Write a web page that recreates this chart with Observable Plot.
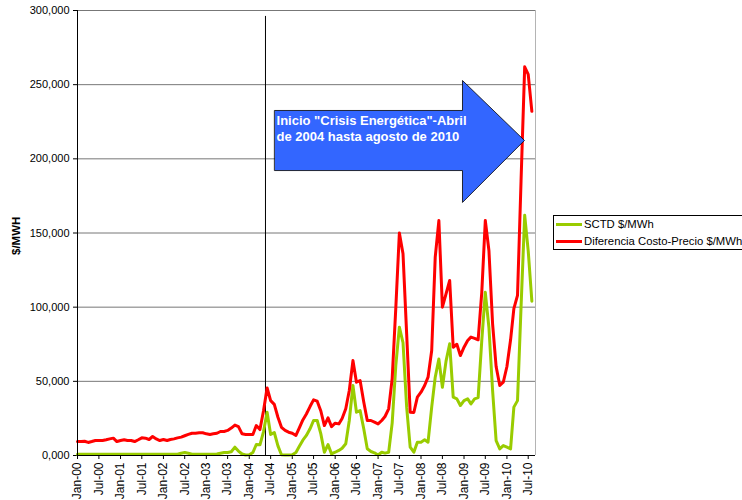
<!DOCTYPE html>
<html><head><meta charset="utf-8">
<script src="https://cdn.jsdelivr.net/npm/d3@7"></script>
<script src="https://cdn.jsdelivr.net/npm/@observablehq/plot@0.6"></script>
<style>
html,body{margin:0;padding:0;background:#fff;overflow:hidden;}
#wrap{position:relative;width:742px;height:500px;font-family:"Liberation Sans",Arial,sans-serif;}
#legend{position:absolute;left:553px;top:215px;width:210px;height:33px;border:1px solid #000;background:#fff;font-size:11.3px;color:#000;}
.item{position:absolute;left:2px;height:14px;display:flex;align-items:center;white-space:nowrap;}
.swatch{display:inline-block;width:26px;height:3px;margin-right:2px;}
</style></head>
<body><div id="wrap"><div id="legend"></div></div>
<script>
// ---- data (monthly, Jan-00 .. Aug-10) ----
const firstMonth = "2000-01-01";
const lastMonthExclusive = "2010-09-01";
const seriesNames = ["SCTD $/MWh", "Diferencia Costo-Precio $/MWh"];
const seriesColors = ["#99CC00", "#FF0000"];

const sctd = [
  800,800,800,800,800,800,800,800,800,800,800,800,
  800,800,800,800,800,800,800,800,800,800,800,800,
  800,800,800,800,800,1500,2000,1500,800,800,800,800,
  800,800,800,1000,1500,2000,2000,2500,5600,3000,1000,300,
  500,2000,7400,7200,16000,29200,14200,15500,6500,500,300,300,
  500,2000,6000,10300,13500,18000,23600,23600,14600,2200,7400,1100,
  2200,3400,4900,7900,23600,47200,29200,30300,18000,4500,2700,1800,
  300,2200,1600,2200,22000,61000,86500,76000,32600,5600,2200,9000,
  9000,10600,9000,32600,52800,65000,46000,63600,75300,39300,38200,33700,
  37000,38200,34800,38200,39000,77500,110000,86000,43800,10000,4500,6700,
  5600,4500,32600,37000,100000,162000,138000,104000
];
const diferencia = [
  9400,9400,9600,8800,9400,10100,10100,10100,10600,11200,11700,9400,
  10100,10600,10100,10100,9400,10600,11900,11700,10800,12800,11200,10100,
  10800,10100,10800,11200,11900,12400,13300,14200,15000,15000,15300,15300,
  14600,14200,14600,15000,16200,16200,16900,18500,20500,19500,14600,14200,
  14200,14200,20200,17500,30000,45500,37000,34500,25800,19000,16900,15700,
  15000,13500,18500,24000,28000,33000,37500,36600,30000,20200,25400,19500,
  21800,21300,25000,31500,43800,64000,49400,50500,36000,23600,23600,22500,
  21300,23600,26300,31500,52000,100000,150000,136000,82000,29200,29000,39300,
  42700,47200,52800,70800,133700,158400,100000,109000,118000,73000,75000,67400,
  73000,77500,79800,79000,78000,110000,158400,138000,88800,60000,47200,49400,
  60000,78000,99000,108000,185000,262000,257000,232000
];

const xTickLabels = ["Jan-00","Jul-00","Jan-01","Jul-01","Jan-02","Jul-02","Jan-03","Jul-03",
  "Jan-04","Jul-04","Jan-05","Jul-05","Jan-06","Jul-06","Jan-07","Jul-07","Jan-08","Jul-08",
  "Jan-09","Jul-09","Jan-10","Jul-10"];
const yTicks = [0,50000,100000,150000,200000,250000,300000];
const yTickLabels = ["0,000","50,000","100,000","150,000","200,000","250,000","300,000"];
const yAxisLabel = "$/MWH";

// annotation: crisis start line and arrow
const crisisDate = "2004-05-18";
const crisisTop = 296000;
const arrowText = "Inicio \"Crisis Energética\"-Abril\nde 2004 hasta agosto de 2010";
const arrowTextDate = "2004-08-20";
const arrowTextTop = 231000;
const arrowX = ["2004-08-05","2008-12-19","2008-12-19","2010-05-30","2008-12-19","2008-12-19","2004-08-05"];
const arrowY = [232600,232600,252800,212400,170600,192100,192100];

// ---- build ----
const parseISO = d3.utcParse("%Y-%m-%d");
const parseTick = d3.utcParse("%b-%y");
const x0 = parseISO(firstMonth), x1 = parseISO(lastMonthExclusive);
const months = d3.utcMonth.range(x0, x1);
const sctdRows = months.map((d, i) => ({date: d, value: sctd[i]}));
const difRows = months.map((d, i) => ({date: d, value: diferencia[i]}));
const tickDates = xTickLabels.map(parseTick);
const xLabelMap = new Map(tickDates.map((d, i) => [+d, xTickLabels[i]]));
const yLabelMap = new Map(yTicks.map((v, i) => [v, yTickLabels[i]]));
const arrowPts = arrowX.map((d, i) => ({x: parseISO(d), y: arrowY[i]}));

const chart = Plot.plot({
  width: 742, height: 500,
  marginLeft: 77, marginRight: 207, marginTop: 10, marginBottom: 45,
  style: {fontFamily: "'Liberation Sans', Arial, sans-serif", fontSize: "11px", color: "#000", background: "#fff", overflow: "visible"},
  x: {type: "utc", domain: [x0, x1]},
  y: {domain: [0, 300000]},
  marks: [
    Plot.ruleY(yTicks.slice(1), {stroke: "#777", strokeWidth: 1}),
    Plot.ruleX([x1], {stroke: "#b4b4b4", strokeWidth: 1}),
    Plot.axisY({ticks: yTicks, tickFormat: d => yLabelMap.get(d), tickSize: 4, tickPadding: 4, label: null, stroke: "#000"}),
    Plot.axisX({ticks: tickDates, tickFormat: d => xLabelMap.get(+d), tickRotate: -90, tickSize: 4, tickPadding: 3, label: null, stroke: "#000", fontSize: 12}),
    Plot.ruleX([parseISO(crisisDate)], {y1: 0, y2: crisisTop, stroke: "#000", strokeWidth: 1}),
    Plot.line(sctdRows, {x: "date", y: "value", stroke: seriesColors[0], strokeWidth: 3}),
    Plot.line(difRows, {x: "date", y: "value", stroke: seriesColors[1], strokeWidth: 3}),
    Plot.line(arrowPts, {x: "x", y: "y", fill: "#3366FF", stroke: "#000", strokeWidth: 0.8, curve: "linear-closed"}),
    Plot.text([{x: parseISO(arrowTextDate), y: arrowTextTop, t: arrowText}], {x: "x", y: "y", text: "t", textAnchor: "start", lineAnchor: "top", fill: "#fff", fontWeight: "bold", fontSize: 13, lineHeight: 1.28}),
    Plot.ruleY([0], {stroke: "#000", strokeWidth: 1}),
    Plot.ruleX([x0], {stroke: "#000", strokeWidth: 1}),
    Plot.text([yAxisLabel], {text: d => d, frameAnchor: "left", dx: -61, dy: 22, rotate: -90, fontWeight: "bold", fontSize: 11.5, fill: "#000"})
  ]
});
document.getElementById("wrap").prepend(chart);

// legend
const legend = document.getElementById("legend");
seriesNames.forEach((name, i) => {
  const item = document.createElement("div");
  item.className = "item";
  item.style.top = (i === 0 ? 1 : 18) + "px";
  const sw = document.createElement("span");
  sw.className = "swatch";
  sw.style.background = seriesColors[i];
  item.appendChild(sw);
  item.appendChild(document.createTextNode(name));
  legend.appendChild(item);
});
</script>
</body></html>
